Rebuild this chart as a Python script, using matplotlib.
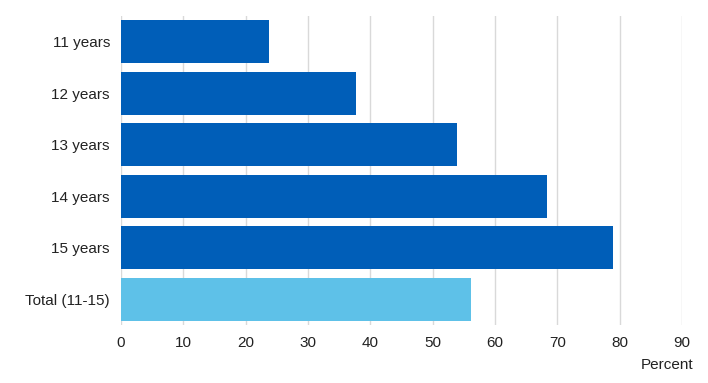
import matplotlib
matplotlib.use("Agg")
import matplotlib.pyplot as plt

categories = ["11 years", "12 years", "13 years", "14 years", "15 years", "Total (11-15)"]
values = [23.8, 37.7, 53.9, 68.4, 79.0, 56.2]
colors = ["#005EB8"] * 5 + ["#5EC1E8"]
xticks = [0, 10, 20, 30, 40, 50, 60, 70, 80, 90]

plt.rcParams['font.family'] = ['Liberation Sans', 'DejaVu Sans']

fig = plt.figure(figsize=(7.08, 3.83), dpi=100)
ax = fig.add_axes([121/708, 1-325/383, (682-121)/708, (325-16)/383])

y = list(range(len(categories)))
ax.barh(y, values, height=0.83, color=colors, zorder=3)
ax.set_ylim(len(categories) - 0.5, -0.5)
ax.set_xlim(0, 90)
ax.set_yticks(y)
ax.set_yticklabels(categories, fontsize=11, color="#222222")
ax.set_xticks(xticks)
ax.set_xticklabels([str(t) for t in xticks], fontsize=11, color="#222222")
ax.tick_params(axis='y', length=0, pad=8)
ax.tick_params(axis='x', length=0, pad=8)
ax.grid(axis='x', color="#d9d9d9", linewidth=1, zorder=0)
for s in ax.spines.values():
    s.set_visible(False)
fig.text(693/708, 1-365/383, "Percent", ha='right', va='center', fontsize=11, color="#222222")

fig.savefig("out.png", dpi=100)
